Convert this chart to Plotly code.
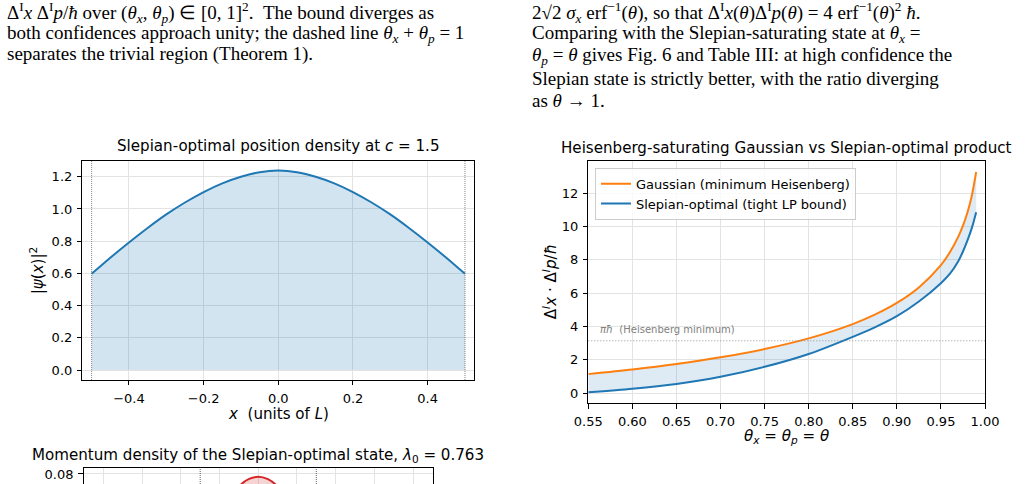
import plotly.graph_objects as go

W, H = 1028, 484
def X(px): return px / W
def Y(py): return 1 - py / H

# ---------------- data ----------------
# Slepian-optimal position density at c = 1.5
pos_x = [-0.5, -0.45, -0.4, -0.35, -0.3, -0.25, -0.2, -0.15, -0.1, -0.05, 0.0,
         0.05, 0.1, 0.15, 0.2, 0.25, 0.3, 0.35, 0.4, 0.45, 0.5]
pos_density = [0.597, 0.697, 0.792, 0.882, 0.966, 1.040, 1.105, 1.159, 1.200, 1.228, 1.238,
               1.228, 1.200, 1.159, 1.105, 1.040, 0.966, 0.882, 0.792, 0.697, 0.597]
support_edges = [-0.5, 0.5]

# Gaussian vs Slepian-optimal product
theta = [0.55, 0.60, 0.65, 0.70, 0.75, 0.80, 0.85, 0.875, 0.90, 0.925, 0.95,
         0.96, 0.97, 0.975, 0.98, 0.985, 0.99]
gaussian_product = [1.141, 1.417, 1.747, 2.148, 2.647, 3.285, 4.144, 4.707, 5.411, 6.340, 7.683,
                    8.436, 9.419, 10.048, 10.824, 11.834, 13.270]
slepian_product = [0.05, 0.26, 0.55, 0.98, 1.58, 2.35, 3.38, 3.95, 4.62, 5.50, 6.60,
                   7.15, 7.95, 8.50, 9.15, 9.90, 10.86]
heisenberg_min = 3.14159

# Momentum density of the Slepian-optimal state (top part visible)
mom_p = [-4.5, -4.25, -4.0, -3.75, -3.5, -3.25, -3.0, -2.75, -2.5, -2.25, -2.0, -1.75, -1.5,
         -1.25, -1.0, -0.75, -0.5, -0.25, 0.0, 0.25, 0.5, 0.75, 1.0, 1.25, 1.5, 1.75, 2.0,
         2.25, 2.5, 2.75, 3.0, 3.25, 3.5, 3.75, 4.0, 4.25, 4.5]
mom_density = [0.0016, 0.0026, 0.0040, 0.0059, 0.0084, 0.0116, 0.0155, 0.0202, 0.0257, 0.0319,
               0.0386, 0.0457, 0.0528, 0.0597, 0.0660, 0.0714, 0.0755, 0.0781, 0.0790,
               0.0781, 0.0755, 0.0714, 0.0660, 0.0597, 0.0528, 0.0457, 0.0386, 0.0319, 0.0257,
               0.0202, 0.0155, 0.0116, 0.0084, 0.0059, 0.0040, 0.0026, 0.0016]
band_edges = [-1.5, 1.5]

BLUE = "#1f77b4"
ORANGE = "#ff7f0e"
RED = "#d62728"
FONT = "DejaVu Sans"
TICK = 13
LAB = 15.1

fig = go.Figure()

# left chart
fig.add_trace(go.Scatter(x=pos_x, y=pos_density, mode="lines",
                         line=dict(color=BLUE, width=2, shape="spline", smoothing=0.8),
                         fill="tozeroy", fillcolor="rgba(31,119,180,0.2)", xaxis="x", yaxis="y",
                         showlegend=False, hoverinfo="skip"))

# right chart band
fig.add_trace(go.Scatter(x=theta, y=slepian_product, mode="lines", line=dict(width=0, shape="spline", smoothing=0.8),
                         xaxis="x2", yaxis="y2", showlegend=False, hoverinfo="skip"))
fig.add_trace(go.Scatter(x=theta, y=gaussian_product, mode="lines", line=dict(width=0, shape="spline", smoothing=0.8),
                         fill="tonexty", fillcolor="rgba(31,119,180,0.15)",
                         xaxis="x2", yaxis="y2", showlegend=False, hoverinfo="skip"))
fig.add_trace(go.Scatter(x=theta, y=gaussian_product, mode="lines", name="Gaussian (minimum Heisenberg)",
                         line=dict(color=ORANGE, width=2, shape="spline", smoothing=0.8), xaxis="x2", yaxis="y2"))
fig.add_trace(go.Scatter(x=theta, y=slepian_product, mode="lines", name="Slepian-optimal (tight LP bound)",
                         line=dict(color=BLUE, width=2, shape="spline", smoothing=0.8), xaxis="x2", yaxis="y2"))

# bottom chart
fig.add_trace(go.Scatter(x=mom_p, y=mom_density, mode="lines",
                         line=dict(color=RED, width=2, shape="spline", smoothing=0.8),
                         fill="tozeroy", fillcolor="rgba(214,39,40,0.2)", xaxis="x3", yaxis="y3",
                         showlegend=False, hoverinfo="skip"))

axis_common = dict(showline=True, linecolor="black", linewidth=1, mirror=True,
                   ticks="outside", ticklen=4.4, tickwidth=1, tickcolor="black",
                   showgrid=True, gridcolor="#e3e3e3", gridwidth=1, zeroline=False,
                   tickfont=dict(family=FONT, size=TICK, color="black"),
                   automargin=False, ticklabelstandoff=2)

fig.update_layout(
    width=W, height=H, margin=dict(l=0, r=0, t=0, b=0),
    paper_bgcolor="white", plot_bgcolor="white", template="none",
    font=dict(family=FONT, color="black"),
    xaxis=dict(axis_common, domain=[X(82.3), X(474.3)], range=[-0.525, 0.525], anchor="y",
               tickvals=[-0.4, -0.2, 0.0, 0.2, 0.4], tickformat=".1f"),
    yaxis=dict(axis_common, domain=[Y(380), Y(160.7)], range=[-0.0619, 1.2995], anchor="x",
               tickvals=[0.0, 0.2, 0.4, 0.6, 0.8, 1.0, 1.2], tickformat=".1f"),
    xaxis2=dict(axis_common, domain=[X(588.3), X(985)], range=[0.55, 1.0], anchor="y2",
                tickvals=[0.55, 0.60, 0.65, 0.70, 0.75, 0.80, 0.85, 0.90, 0.95, 1.00], tickformat=".2f"),
    yaxis2=dict(axis_common, domain=[Y(403.3), Y(161)], range=[-0.61, 13.93], anchor="x2",
                tickvals=[0, 2, 4, 6, 8, 10, 12]),
    xaxis3=dict(axis_common, domain=[X(83.5), X(433)], range=[-4.516, 4.516], anchor="y3",
                side="top", mirror=False, ticks="", showticklabels=False, dtick=1, tick0=0),
    yaxis3=dict(axis_common, domain=[0, Y(467.7)], range=[0.07636, 0.08229], anchor="x3",
                tickvals=[0.0, 0.02, 0.04, 0.06, 0.08], tickformat=".2f"),
    legend=dict(x=X(595), y=Y(167.7), xanchor="left", yanchor="top", traceorder="normal",
                font=dict(family=FONT, size=13, color="black"),
                bordercolor="#cccccc", borderwidth=1, bgcolor="rgba(255,255,255,0.8)",
                itemwidth=30, tracegroupgap=0),
)

shapes = []
for e in support_edges:
    shapes.append(dict(type="line", xref="x", yref="y domain", x0=e, x1=e, y0=0, y1=1,
                       line=dict(color="rgba(110,110,110,0.85)", width=1, dash="1px,1px")))
shapes.append(dict(type="line", xref="x2 domain", yref="y2", x0=0, x1=1, y0=heisenberg_min, y1=heisenberg_min,
                   line=dict(color="rgba(130,130,130,0.85)", width=1, dash="1px,2px")))
for e in band_edges:
    shapes.append(dict(type="line", xref="x3", yref="y3 domain", x0=e, x1=e, y0=0, y1=1,
                       line=dict(color="rgba(70,70,70,0.85)", width=1, dash="1px,1px")))
fig.update_layout(shapes=shapes)

ann = []
def A(text, x, y, size=LAB, angle=0, xanchor="center", color="black", family=FONT):
    ann.append(dict(text=text, x=X(x), y=Y(y), xref="paper", yref="paper", showarrow=False,
                    xanchor=xanchor, yanchor="middle", textangle=angle,
                    font=dict(family=family, size=size, color=color)))

# chart titles / labels
A("Slepian-optimal position density at <i>c</i> = 1.5", 278.3, 146)
A("<i>x</i> \u00a0(units of <i>L</i>)", 278.3, 414)
A("|<i>ψ</i>(<i>x</i>)|<sup>2</sup>", 37, 270.3, angle=-90)
A("Heisenberg-saturating Gaussian vs Slepian-optimal product", 786.7, 148)
A("<i>θ<sub>x</sub></i> = <i>θ<sub>p</sub></i> = <i>θ</i>", 786.7, 436)
A("Δ<sup><i>I</i></sup><i>x</i> · Δ<sup><i>I</i></sup><i>p</i>/<i>ħ</i>", 550, 282.3, angle=-90)
A("Momentum density of the Slepian-optimal state, <i>λ</i><sub>0</sub> = 0.763", 258.3, 455)

ann.append(dict(text="<i>πħ</i> \u00a0(Heisenberg minimum)", x=0.5607, y=3.8, xref="x2", yref="y2",
                showarrow=False, xanchor="left", yanchor="middle",
                font=dict(family=FONT, size=10, color="#808080")))

# page text
SERIF = "Liberation Serif"
TS = 19
left_lines = [
    ("Δ<sup>I</sup><i>x</i> Δ<sup>I</sup><i>p</i>/<i>ħ</i> over (<i>θ<sub>x</sub></i>, <i>θ<sub>p</sub></i>) ∈ [0, 1]<sup>2</sup>. \u00a0The bound diverges as", 13),
    ("both confidences approach unity; the dashed line <i>θ<sub>x</sub></i> + <i>θ<sub>p</sub></i> = 1", 33.5),
    ("separates the trivial region (Theorem 1).", 53.5),
]
right_lines = [
    ("2√2 <i>σ<sub>x</sub></i> erf<sup>−1</sup>(<i>θ</i>), so that Δ<sup>I</sup><i>x</i>(<i>θ</i>)Δ<sup>I</sup><i>p</i>(<i>θ</i>) = 4 erf<sup>−1</sup>(<i>θ</i>)<sup>2</sup> <i>ħ</i>.", 12),
    ("Comparing with the Slepian-saturating state at <i>θ<sub>x</sub></i> =", 33.5),
    ("<i>θ<sub>p</sub></i> = <i>θ</i> gives Fig. 6 and Table III: at high confidence the", 56),
    ("Slepian state is strictly better, with the ratio diverging", 78),
    ("as <i>θ</i> → 1.", 100.5),
]
for t, y in left_lines:
    A(t, 5, y, size=TS, xanchor="left", family=SERIF)
for t, y in right_lines:
    A(t, 530, y, size=TS, xanchor="left", family=SERIF)

fig.update_layout(annotations=ann)
fig.write_html("out.html")
